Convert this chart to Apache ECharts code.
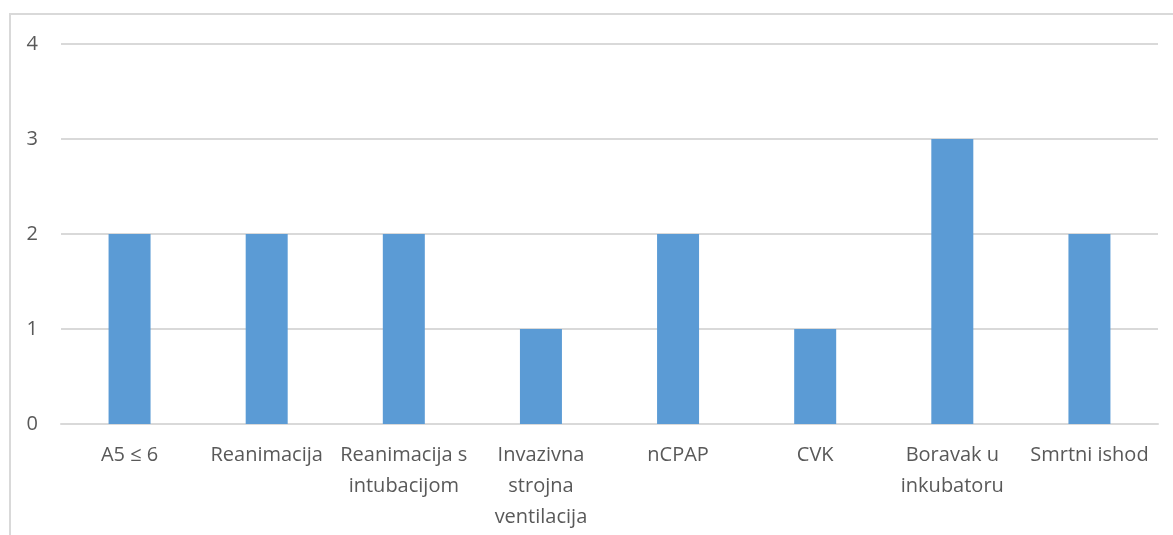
<!DOCTYPE html>
<html><head><meta charset="utf-8">
<script src="https://cdn.jsdelivr.net/npm/echarts@6/dist/echarts.min.js"></script>
<style>
html,body{margin:0;padding:0;background:#fff;}
#frame{position:absolute;left:9px;top:13px;width:1164px;height:522px;border-top:2px solid #d9d9d9;border-left:2px solid #d9d9d9;box-sizing:border-box;}
#c{position:absolute;left:0;top:0;width:1173px;height:535px;}
</style></head>
<body>
<div id="frame"></div>
<div id="c"></div>
<script>
const categories = ["A5 ≤ 6","Reanimacija","Reanimacija s\nintubacijom","Invazivna\nstrojna\nventilacija","nCPAP","CVK","Boravak u\ninkubatoru","Smrtni ishod"];
const values = [2,2,2,1,2,1,3,2];
const yTicks = [0,1,2,3,4];

const chart = echarts.init(document.getElementById('c'));
chart.setOption({
  animation:false,
  grid:{left:61,right:15,top:44,bottom:111,containLabel:false},
  xAxis:{type:'category',data:categories,
    axisLine:{lineStyle:{color:'#d9d9d9',width:2}},
    axisTick:{show:false},
    axisLabel:{color:'#595959',fontSize:20,fontFamily:'Open Sans, sans-serif',lineHeight:31,margin:16,interval:0}},
  yAxis:{type:'value',min:yTicks[0],max:yTicks[yTicks.length-1],interval:1,
    axisLine:{show:false},axisTick:{show:false},
    splitLine:{lineStyle:{color:'#d9d9d9',width:2}},
    axisLabel:{color:'#595959',fontSize:20,fontFamily:'Open Sans, sans-serif',margin:23}},
  series:[{type:'bar',data:values,barWidth:42,itemStyle:{color:'#5b9bd5'}}]
});
</script>
</body></html>
